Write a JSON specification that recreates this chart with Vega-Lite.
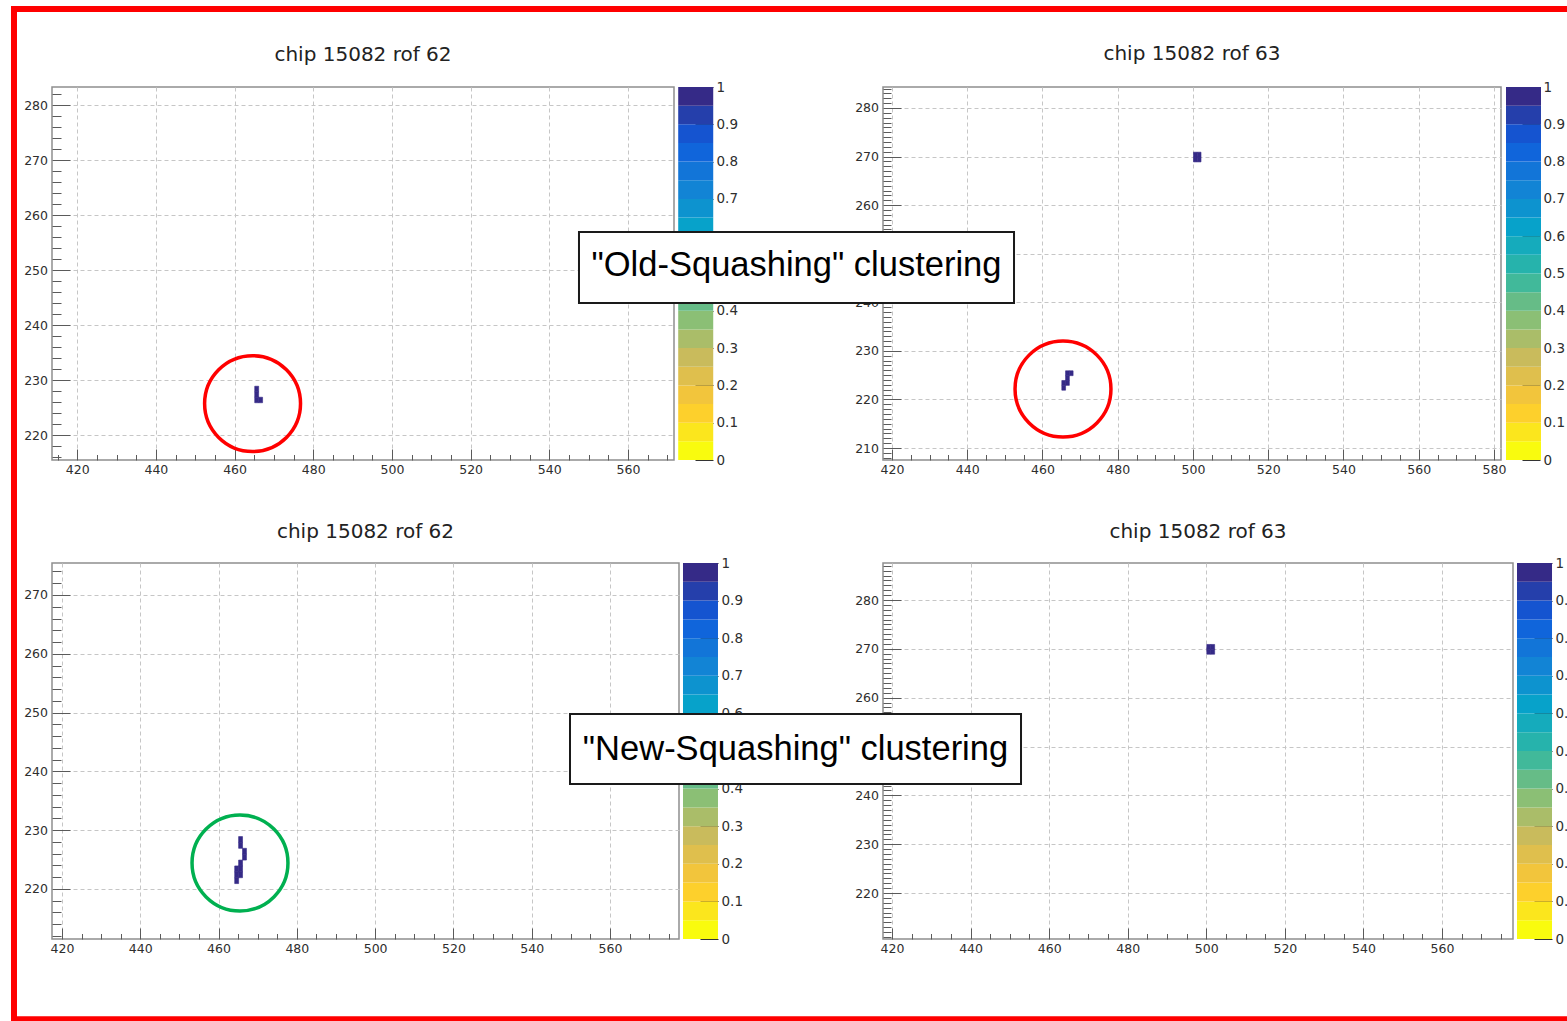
{
  "$schema": "https://vega.github.io/schema/vega-lite/v6.json",
  "background": "white",
  "padding": {"left": 10, "top": 5, "right": 0, "bottom": 0},
  "config": {
    "font": "DejaVu Sans",
    "view": {"stroke": "#8f8f8f", "strokeWidth": 1.5},
    "axis": {
      "domain": false,
      "labelFont": "DejaVu Sans",
      "labelFontSize": 12.5,
      "labelColor": "#2e2e2e",
      "tickColor": "#5a5a5a",
      "tickWidth": 1,
      "gridColor": "#c6c6c6",
      "gridDash": [4, 3],
      "gridWidth": 1,
      "labelOverlap": false,
      "labelFlush": false,
      "labelBound": false
    },
    "axisLeft": {"zindex": 0},
    "axisBottom": {"zindex": 0},
    "title": {"font": "DejaVu Sans", "fontSize": 20, "fontWeight": "normal", "color": "#222222", "frame": "group", "anchor": "middle", "baseline": "alphabetic"}
  },
  "datasets": {
    "hitsA": [
      {"col": 465, "row": 226, "v": 1}, {"col": 465, "row": 227, "v": 1}, {"col": 465, "row": 228, "v": 1}, {"col": 466, "row": 226, "v": 1}
    ],
    "hitsB": [
      {"col": 466, "row": 225, "v": 1}, {"col": 467, "row": 225, "v": 1}, {"col": 466, "row": 224, "v": 1}, {"col": 466, "row": 223, "v": 1},
      {"col": 465, "row": 223, "v": 1}, {"col": 465, "row": 222, "v": 1},
      {"col": 500, "row": 269, "v": 1}, {"col": 500, "row": 270, "v": 1}, {"col": 501, "row": 269, "v": 1}, {"col": 501, "row": 270, "v": 1}
    ],
    "hitsC": [
      {"col": 465, "row": 228, "v": 1}, {"col": 465, "row": 227, "v": 1}, {"col": 466, "row": 226, "v": 1}, {"col": 466, "row": 225, "v": 1},
      {"col": 465, "row": 224, "v": 1}, {"col": 465, "row": 223, "v": 1}, {"col": 464, "row": 223, "v": 1}, {"col": 465, "row": 222, "v": 1},
      {"col": 464, "row": 222, "v": 1}, {"col": 464, "row": 221, "v": 1}
    ],
    "hitsD": [
      {"col": 500, "row": 269, "v": 1}, {"col": 500, "row": 270, "v": 1}, {"col": 501, "row": 269, "v": 1}, {"col": 501, "row": 270, "v": 1}
    ],
    "palette": [
      {"lo": 0, "hi": 0.05}, {"lo": 0.05, "hi": 0.1}, {"lo": 0.1, "hi": 0.15}, {"lo": 0.15, "hi": 0.2},
      {"lo": 0.2, "hi": 0.25}, {"lo": 0.25, "hi": 0.3}, {"lo": 0.3, "hi": 0.35}, {"lo": 0.35, "hi": 0.4},
      {"lo": 0.4, "hi": 0.45}, {"lo": 0.45, "hi": 0.5}, {"lo": 0.5, "hi": 0.55}, {"lo": 0.55, "hi": 0.6},
      {"lo": 0.6, "hi": 0.65}, {"lo": 0.65, "hi": 0.7}, {"lo": 0.7, "hi": 0.75}, {"lo": 0.75, "hi": 0.8},
      {"lo": 0.8, "hi": 0.85}, {"lo": 0.85, "hi": 0.9}, {"lo": 0.9, "hi": 0.95}, {"lo": 0.95, "hi": 1}
    ]
  },
  "columns": 2,
  "spacing": {"column": 204, "row": 103},
  "bounds": "flush",
  "align": "none",
  "concat": [
    {
      "width": 622,
      "height": 373,
      "layer": [
        {
          "layer": [
            {
              "data": {"name": "hitsA"},
              "mark": {"type": "rect", "binSpacing": 0, "strokeWidth": 0.6},
              "encoding": {
                "x": {
                  "field": "col", "type": "quantitative", "bin": {"step": 1, "extent": [400, 600]},
                  "scale": {"domain": [413.6, 571.7], "nice": false, "zero": false},
                  "axis": {
                    "title": null, "grid": true, "labelPadding": 14,
                    "values": [415,420,425,430,435,440,445,450,455,460,465,470,475,480,485,490,495,500,505,510,515,520,525,530,535,540,545,550,555,560,565,570],
                    "labelExpr": "datum.value % 20 === 0 ? datum.label : ''",
                    "tickSize": {"condition": {"test": "datum.value % 20 === 0", "value": -11}, "value": -5.5},
                    "gridOpacity": {"condition": {"test": "datum.value % 20 === 0", "value": 1}, "value": 0}
                  }
                },
                "y": {
                  "field": "row", "type": "quantitative", "bin": {"step": 1, "extent": [200, 300]},
                  "scale": {"domain": [215.5, 283.3], "nice": false, "zero": false},
                  "axis": {
                    "title": null, "grid": true, "orient": "left", "labelPadding": 22.5,
                    "values": [216,218,220,222,224,226,228,230,232,234,236,238,240,242,244,246,248,250,252,254,256,258,260,262,264,266,268,270,272,274,276,278,280,282],
                    "labelExpr": "datum.value % 10 === 0 ? datum.label : ''",
                    "tickSize": {"condition": {"test": "datum.value % 10 === 0", "value": -18}, "value": -9},
                    "gridOpacity": {"condition": {"test": "datum.value % 10 === 0", "value": 1}, "value": 0}
                  }
                },
                "color": {
                  "field": "v", "type": "quantitative", "legend": null,
                  "scale": {"type": "quantize", "domain": [0, 1], "range": ["#f9fb0e","#fbe61d","#fdd02c","#f2c53c","#dfbf4d","#c9bb5c","#aabd69","#8bbf75","#66bc87","#41b99a","#26b3ac","#15abbc","#07a2ca","#0d93cf","#1284d5","#1275d8","#1065db","#1554d0","#253fab","#352a87"]}
                },
                "stroke": {
                  "field": "v", "type": "quantitative", "legend": null,
                  "scale": {"type": "quantize", "domain": [0, 1], "range": ["#f9fb0e","#fbe61d","#fdd02c","#f2c53c","#dfbf4d","#c9bb5c","#aabd69","#8bbf75","#66bc87","#41b99a","#26b3ac","#15abbc","#07a2ca","#0d93cf","#1284d5","#1275d8","#1065db","#1554d0","#253fab","#352a87"]}
                }
              }
            },
            {
              "data": {"values": [{}]},
              "mark": {"type": "text", "text": "chip 15082 rof 62", "font": "DejaVu Sans", "fontSize": 20, "color": "#222222", "align": "center", "baseline": "alphabetic"},
              "encoding": {"x": {"datum": 492.65}, "y": {"datum": 288.03}}
            },
            {
              "data": {"values": [{}]},
              "mark": {"type": "point", "shape": "circle", "filled": false, "size": 9200, "strokeWidth": 3.5, "color": "#ff0000", "opacity": 1},
              "encoding": {"x": {"datum": 464.58}, "y": {"datum": 225.75}}
            },
            {
              "data": {"values": [{}]},
              "mark": {"type": "rect", "filled": false, "stroke": "#ff0000", "strokeWidth": 6},
              "encoding": {"x": {"datum": 403.94}, "x2": {"datum": 802.4}, "y": {"datum": 297.48}, "y2": {"datum": 113.85}}
            }
          ]
        },
        {
          "data": {"name": "palette"},
          "mark": {"type": "rect"},
          "encoding": {
            "x": {"datum": 572.77}, "x2": {"datum": 581.67},
            "y": {
              "field": "lo", "type": "quantitative", "scale": {"domain": [0, 1], "nice": false},
              "axis": {"orient": "right", "offset": 39, "title": null, "grid": false, "values": [0,0.1,0.2,0.3,0.4,0.5,0.6,0.7,0.8,0.9,1], "format": ".1~f", "tickSize": -18, "labelPadding": 21, "tickColor": "#333333", "labelFontSize": 13.5}
            },
            "y2": {"field": "hi"},
            "color": {
              "field": "lo", "type": "quantitative", "legend": null,
              "scale": {"type": "quantize", "domain": [0, 1], "range": ["#f9fb0e","#fbe61d","#fdd02c","#f2c53c","#dfbf4d","#c9bb5c","#aabd69","#8bbf75","#66bc87","#41b99a","#26b3ac","#15abbc","#07a2ca","#0d93cf","#1284d5","#1275d8","#1065db","#1554d0","#253fab","#352a87"]}
            }
          }
        }
      ],
      "resolve": {"scale": {"y": "independent"}, "axis": {"y": "independent"}}
    },
    {
      "width": 618,
      "height": 373,
      "title": {"text": "chip 15082 rof 63", "offset": 16},
      "layer": [
        {
          "layer": [
            {
              "data": {"name": "hitsB"},
              "mark": {"type": "rect", "binSpacing": 0, "strokeWidth": 0.6},
              "encoding": {
                "x": {
                  "field": "col", "type": "quantitative", "bin": {"step": 1, "extent": [400, 600]},
                  "scale": {"domain": [417.61, 581.86], "nice": false, "zero": false},
                  "axis": {
                    "title": null, "grid": true, "labelPadding": 14,
                    "values": [420,425,430,435,440,445,450,455,460,465,470,475,480,485,490,495,500,505,510,515,520,525,530,535,540,545,550,555,560,565,570,575,580],
                    "labelExpr": "datum.value % 20 === 0 ? datum.label : ''",
                    "tickSize": {"condition": {"test": "datum.value % 20 === 0", "value": -11}, "value": -5.5},
                    "gridOpacity": {"condition": {"test": "datum.value % 20 === 0", "value": 1}, "value": 0}
                  }
                },
                "y": {
                  "field": "row", "type": "quantitative", "bin": {"step": 1, "extent": [200, 300]},
                  "scale": {"domain": [207.53, 284.32], "nice": false, "zero": false},
                  "axis": {
                    "title": null, "grid": true, "orient": "left", "labelPadding": 22.5,
                    "values": [208,209,210,211,212,213,214,215,216,217,218,219,220,221,222,223,224,225,226,227,228,229,230,231,232,233,234,235,236,237,238,239,240,241,242,243,244,245,246,247,248,249,250,251,252,253,254,255,256,257,258,259,260,261,262,263,264,265,266,267,268,269,270,271,272,273,274,275,276,277,278,279,280,281,282,283,284],
                    "labelExpr": "datum.value % 10 === 0 ? datum.label : ''",
                    "tickSize": {"condition": {"test": "datum.value % 10 === 0", "value": -18}, "value": -8},
                    "gridOpacity": {"condition": {"test": "datum.value % 10 === 0", "value": 1}, "value": 0}
                  }
                },
                "color": {
                  "field": "v", "type": "quantitative", "legend": null,
                  "scale": {"type": "quantize", "domain": [0, 1], "range": ["#f9fb0e","#fbe61d","#fdd02c","#f2c53c","#dfbf4d","#c9bb5c","#aabd69","#8bbf75","#66bc87","#41b99a","#26b3ac","#15abbc","#07a2ca","#0d93cf","#1284d5","#1275d8","#1065db","#1554d0","#253fab","#352a87"]}
                },
                "stroke": {
                  "field": "v", "type": "quantitative", "legend": null,
                  "scale": {"type": "quantize", "domain": [0, 1], "range": ["#f9fb0e","#fbe61d","#fdd02c","#f2c53c","#dfbf4d","#c9bb5c","#aabd69","#8bbf75","#66bc87","#41b99a","#26b3ac","#15abbc","#07a2ca","#0d93cf","#1284d5","#1275d8","#1065db","#1554d0","#253fab","#352a87"]}
                }
              }
            },
            {
              "data": {"values": [{}]},
              "mark": {"type": "point", "shape": "circle", "filled": false, "size": 9200, "strokeWidth": 3.5, "color": "#ff0000", "opacity": 1},
              "encoding": {"x": {"datum": 465.45}, "y": {"datum": 222.14}}
            },
            {
              "data": {"values": [{}]},
              "mark": {"type": "rect", "fill": "#ffffff", "stroke": "#1a1a1a", "strokeWidth": 2},
              "encoding": {"x": {"datum": 336.81}, "x2": {"datum": 452.43}, "y": {"datum": 254.47}, "y2": {"datum": 239.85}}
            },
            {
              "data": {"values": [{}]},
              "mark": {"type": "text", "text": "\"Old-Squashing\" clustering", "font": "Liberation Sans", "fontSize": 34.5, "color": "#000000", "align": "center", "baseline": "middle"},
              "encoding": {"x": {"datum": 394.62}, "y": {"datum": 247.47}}
            }
          ]
        },
        {
          "data": {"name": "palette"},
          "mark": {"type": "rect"},
          "encoding": {
            "x": {"datum": 583.19}, "x2": {"datum": 592.49},
            "y": {
              "field": "lo", "type": "quantitative", "scale": {"domain": [0, 1], "nice": false},
              "axis": {"orient": "right", "offset": 39, "title": null, "grid": false, "values": [0,0.1,0.2,0.3,0.4,0.5,0.6,0.7,0.8,0.9,1], "format": ".1~f", "tickSize": -18, "labelPadding": 21, "tickColor": "#333333", "labelFontSize": 13.5}
            },
            "y2": {"field": "hi"},
            "color": {
              "field": "lo", "type": "quantitative", "legend": null,
              "scale": {"type": "quantize", "domain": [0, 1], "range": ["#f9fb0e","#fbe61d","#fdd02c","#f2c53c","#dfbf4d","#c9bb5c","#aabd69","#8bbf75","#66bc87","#41b99a","#26b3ac","#15abbc","#07a2ca","#0d93cf","#1284d5","#1275d8","#1065db","#1554d0","#253fab","#352a87"]}
            }
          }
        }
      ],
      "resolve": {"scale": {"y": "independent"}, "axis": {"y": "independent"}}
    },
    {
      "width": 627,
      "height": 376,
      "title": {"text": "chip 15082 rof 62", "offset": 14},
      "layer": [
        {
          "layer": [
            {
              "data": {"name": "hitsC"},
              "mark": {"type": "rect", "binSpacing": 0, "strokeWidth": 0.6},
              "encoding": {
                "x": {
                  "field": "col", "type": "quantitative", "bin": {"step": 1, "extent": [400, 600]},
                  "scale": {"domain": [417.45, 577.64], "nice": false, "zero": false},
                  "axis": {
                    "title": null, "grid": true, "labelPadding": 14,
                    "values": [420,425,430,435,440,445,450,455,460,465,470,475,480,485,490,495,500,505,510,515,520,525,530,535,540,545,550,555,560,565,570,575],
                    "labelExpr": "datum.value % 20 === 0 ? datum.label : ''",
                    "tickSize": {"condition": {"test": "datum.value % 20 === 0", "value": -11}, "value": -5.5},
                    "gridOpacity": {"condition": {"test": "datum.value % 20 === 0", "value": 1}, "value": 0}
                  }
                },
                "y": {
                  "field": "row", "type": "quantitative", "bin": {"step": 1, "extent": [200, 300]},
                  "scale": {"domain": [211.49, 275.44], "nice": false, "zero": false},
                  "axis": {
                    "title": null, "grid": true, "orient": "left", "labelPadding": 22.5,
                    "values": [212,214,216,218,220,222,224,226,228,230,232,234,236,238,240,242,244,246,248,250,252,254,256,258,260,262,264,266,268,270,272,274],
                    "labelExpr": "datum.value % 10 === 0 ? datum.label : ''",
                    "tickSize": {"condition": {"test": "datum.value % 10 === 0", "value": -18}, "value": -9},
                    "gridOpacity": {"condition": {"test": "datum.value % 10 === 0", "value": 1}, "value": 0}
                  }
                },
                "color": {
                  "field": "v", "type": "quantitative", "legend": null,
                  "scale": {"type": "quantize", "domain": [0, 1], "range": ["#f9fb0e","#fbe61d","#fdd02c","#f2c53c","#dfbf4d","#c9bb5c","#aabd69","#8bbf75","#66bc87","#41b99a","#26b3ac","#15abbc","#07a2ca","#0d93cf","#1284d5","#1275d8","#1065db","#1554d0","#253fab","#352a87"]}
                },
                "stroke": {
                  "field": "v", "type": "quantitative", "legend": null,
                  "scale": {"type": "quantize", "domain": [0, 1], "range": ["#f9fb0e","#fbe61d","#fdd02c","#f2c53c","#dfbf4d","#c9bb5c","#aabd69","#8bbf75","#66bc87","#41b99a","#26b3ac","#15abbc","#07a2ca","#0d93cf","#1284d5","#1275d8","#1065db","#1554d0","#253fab","#352a87"]}
                }
              }
            },
            {
              "data": {"values": [{}]},
              "mark": {"type": "point", "shape": "circle", "filled": false, "size": 9200, "strokeWidth": 3.5, "color": "#00b050", "opacity": 1},
              "encoding": {"x": {"datum": 465.48}, "y": {"datum": 224.42}}
            }
          ]
        },
        {
          "data": {"name": "palette"},
          "mark": {"type": "rect"},
          "encoding": {
            "x": {"datum": 578.66}, "x2": {"datum": 587.6},
            "y": {
              "field": "lo", "type": "quantitative", "scale": {"domain": [0, 1], "nice": false},
              "axis": {"orient": "right", "offset": 39, "title": null, "grid": false, "values": [0,0.1,0.2,0.3,0.4,0.5,0.6,0.7,0.8,0.9,1], "format": ".1~f", "tickSize": -18, "labelPadding": 21, "tickColor": "#333333", "labelFontSize": 13.5}
            },
            "y2": {"field": "hi"},
            "color": {
              "field": "lo", "type": "quantitative", "legend": null,
              "scale": {"type": "quantize", "domain": [0, 1], "range": ["#f9fb0e","#fbe61d","#fdd02c","#f2c53c","#dfbf4d","#c9bb5c","#aabd69","#8bbf75","#66bc87","#41b99a","#26b3ac","#15abbc","#07a2ca","#0d93cf","#1284d5","#1275d8","#1065db","#1554d0","#253fab","#352a87"]}
            }
          }
        }
      ],
      "resolve": {"scale": {"y": "independent"}, "axis": {"y": "independent"}}
    },
    {
      "width": 630,
      "height": 376,
      "title": {"text": "chip 15082 rof 63", "offset": 14},
      "layer": [
        {
          "layer": [
            {
              "data": {"name": "hitsD"},
              "mark": {"type": "rect", "binSpacing": 0, "strokeWidth": 0.6},
              "encoding": {
                "x": {
                  "field": "col", "type": "quantitative", "bin": {"step": 1, "extent": [400, 600]},
                  "scale": {"domain": [417.71, 578.07], "nice": false, "zero": false},
                  "axis": {
                    "title": null, "grid": true, "labelPadding": 14,
                    "values": [420,425,430,435,440,445,450,455,460,465,470,475,480,485,490,495,500,505,510,515,520,525,530,535,540,545,550,555,560,565,570,575],
                    "labelExpr": "datum.value % 20 === 0 ? datum.label : ''",
                    "tickSize": {"condition": {"test": "datum.value % 20 === 0", "value": -11}, "value": -5.5},
                    "gridOpacity": {"condition": {"test": "datum.value % 20 === 0", "value": 1}, "value": 0}
                  }
                },
                "y": {
                  "field": "row", "type": "quantitative", "bin": {"step": 1, "extent": [200, 300]},
                  "scale": {"domain": [210.58, 287.58], "nice": false, "zero": false},
                  "axis": {
                    "title": null, "grid": true, "orient": "left", "labelPadding": 22.5,
                    "values": [211,212,213,214,215,216,217,218,219,220,221,222,223,224,225,226,227,228,229,230,231,232,233,234,235,236,237,238,239,240,241,242,243,244,245,246,247,248,249,250,251,252,253,254,255,256,257,258,259,260,261,262,263,264,265,266,267,268,269,270,271,272,273,274,275,276,277,278,279,280,281,282,283,284,285,286,287],
                    "labelExpr": "datum.value % 10 === 0 ? datum.label : ''",
                    "tickSize": {"condition": {"test": "datum.value % 10 === 0", "value": -18}, "value": -8},
                    "gridOpacity": {"condition": {"test": "datum.value % 10 === 0", "value": 1}, "value": 0}
                  }
                },
                "color": {
                  "field": "v", "type": "quantitative", "legend": null,
                  "scale": {"type": "quantize", "domain": [0, 1], "range": ["#f9fb0e","#fbe61d","#fdd02c","#f2c53c","#dfbf4d","#c9bb5c","#aabd69","#8bbf75","#66bc87","#41b99a","#26b3ac","#15abbc","#07a2ca","#0d93cf","#1284d5","#1275d8","#1065db","#1554d0","#253fab","#352a87"]}
                },
                "stroke": {
                  "field": "v", "type": "quantitative", "legend": null,
                  "scale": {"type": "quantize", "domain": [0, 1], "range": ["#f9fb0e","#fbe61d","#fdd02c","#f2c53c","#dfbf4d","#c9bb5c","#aabd69","#8bbf75","#66bc87","#41b99a","#26b3ac","#15abbc","#07a2ca","#0d93cf","#1284d5","#1275d8","#1065db","#1554d0","#253fab","#352a87"]}
                }
              }
            },
            {
              "data": {"values": [{}]},
              "mark": {"type": "rect", "fill": "#ffffff", "stroke": "#1a1a1a", "strokeWidth": 2},
              "encoding": {"x": {"datum": 338.04}, "x2": {"datum": 452.84}, "y": {"datum": 256.66}, "y2": {"datum": 242.32}}
            },
            {
              "data": {"values": [{}]},
              "mark": {"type": "text", "text": "\"New-Squashing\" clustering", "font": "Liberation Sans", "fontSize": 34.5, "color": "#000000", "align": "center", "baseline": "middle"},
              "encoding": {"x": {"datum": 395.44}, "y": {"datum": 249.28}}
            }
          ]
        },
        {
          "data": {"name": "palette"},
          "mark": {"type": "rect"},
          "encoding": {
            "x": {"datum": 579.09}, "x2": {"datum": 588.0},
            "y": {
              "field": "lo", "type": "quantitative", "scale": {"domain": [0, 1], "nice": false},
              "axis": {"orient": "right", "offset": 39, "title": null, "grid": false, "values": [0,0.1,0.2,0.3,0.4,0.5,0.6,0.7,0.8,0.9,1], "format": ".1~f", "tickSize": -18, "labelPadding": 21, "tickColor": "#333333", "labelFontSize": 13.5}
            },
            "y2": {"field": "hi"},
            "color": {
              "field": "lo", "type": "quantitative", "legend": null,
              "scale": {"type": "quantize", "domain": [0, 1], "range": ["#f9fb0e","#fbe61d","#fdd02c","#f2c53c","#dfbf4d","#c9bb5c","#aabd69","#8bbf75","#66bc87","#41b99a","#26b3ac","#15abbc","#07a2ca","#0d93cf","#1284d5","#1275d8","#1065db","#1554d0","#253fab","#352a87"]}
            }
          }
        }
      ],
      "resolve": {"scale": {"y": "independent"}, "axis": {"y": "independent"}}
    }
  ]
}
